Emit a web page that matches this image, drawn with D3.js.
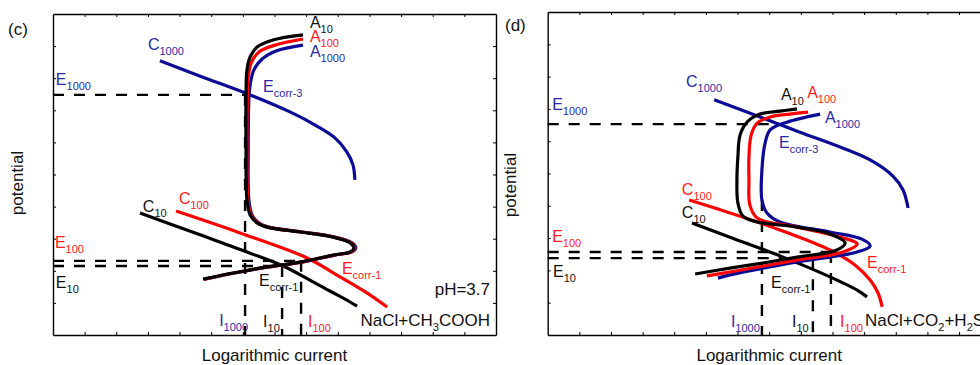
<!DOCTYPE html>
<html>
<head>
<meta charset="utf-8">
<script src="https://cdn.jsdelivr.net/npm/d3@7"></script>
<style>
  body { margin: 0; background: #fff; }
  svg { font-family: "Liberation Sans", Arial, sans-serif; }
</style>
</head>
<body>
<svg width="980" height="365"></svg>
<script>
// schematic polarisation curves, log current (x) vs potential (y), arbitrary units
const xTicks = d3.range(1, 14);
const yTicks = d3.range(1, 10);

// ---- panel (c): NaCl + CH3COOH, pH 3.7
const cCathodic1000 = [[3.38,8.54],[4.80,8.01],[6.23,7.48],[7.49,6.95],[8.34,6.51],[8.91,6.14],[9.29,5.70],[9.48,5.30],[9.54,4.83]];
const cCathodic10 = [[2.75,3.80],[4.65,3.12],[6.23,2.55],[7.27,2.15],[8.12,1.71],[8.75,1.37],[9.23,1.12],[9.61,0.90]];
const cCathodic100 = [[3.89,3.86],[5.91,3.18],[8.03,2.40],[9.07,1.81],[9.92,1.31],[10.56,0.87]];
const cAnodic10 = [[4.74,1.74],[5.69,1.93],[6.76,2.12],[7.81,2.27],[8.85,2.49],[9.39,2.59],[9.51,2.71],[9.39,2.87],[8.85,3.05],[7.81,3.21],[6.76,3.36],[6.45,3.49],[6.23,3.74],[6.13,4.21],[6.10,5.76],[6.10,7.32],[6.13,8.26],[6.23,8.66],[6.45,8.97],[6.95,9.19],[7.90,9.35]];
const cAnodic100 = [[4.77,1.74],[5.72,1.93],[6.79,2.12],[7.84,2.27],[8.88,2.49],[9.42,2.59],[9.54,2.71],[9.42,2.87],[8.88,3.05],[7.84,3.21],[6.79,3.36],[6.48,3.49],[6.26,3.74],[6.16,4.21],[6.13,5.76],[6.14,7.32],[6.16,7.94],[6.26,8.47],[6.51,8.82],[7.02,9.03],[7.90,9.22]];
const cAnodic1000 = [[4.80,1.74],[5.75,1.93],[6.82,2.12],[7.87,2.27],[8.91,2.49],[9.45,2.59],[9.57,2.71],[9.45,2.87],[8.91,3.05],[7.87,3.21],[6.82,3.36],[6.51,3.49],[6.29,3.74],[6.19,4.21],[6.17,5.76],[6.19,7.32],[6.23,7.79],[6.35,8.26],[6.61,8.60],[7.05,8.85],[7.90,9.03]];
const cGuides = [
  [[0,7.48],[6.07,7.48]], [[6.07,7.48],[6.07,0]],
  [[0,2.31],[7.84,2.31]], [[7.84,2.31],[7.84,0]],
  [[0,2.15],[7.24,2.15]], [[7.24,2.15],[7.24,0]]
];
const cLabels = [
  [3.00,8.88,"C","1000","b"], [0.09,7.79,"E","1000","b"],
  [8.12,9.56,"A","10","k"], [8.12,9.13,"A","100","r"], [8.12,8.66,"A","1000","b"],
  [6.64,7.57,"E","corr-3","b"],
  [2.84,3.83,"C","10","k"], [3.98,4.08,"C","100","r"],
  [0.06,2.71,"E","100","r"], [0.09,1.46,"E","10","k"],
  [6.51,1.53,"E","corr-1","k"], [9.13,1.90,"E","corr-1","r"],
  [5.25,0.28,"I","1000","b"], [6.64,0.25,"I","10","k"], [8.06,0.25,"I","100","r"]
];

// ---- panel (d): NaCl + CO2 + H2S
const dCathodic1000 = [[5.26,7.28],[6.71,6.75],[7.97,6.28],[9.24,5.82],[10.19,5.42],[10.91,4.92],[11.23,4.49],[11.39,3.93]];
const dCathodic10 = [[4.56,3.47],[5.76,3.03],[7.34,2.45],[8.92,1.80],[9.78,1.39],[10.09,1.18]];
const dCathodic100 = [[4.47,4.18],[5.76,3.78],[7.34,3.25],[8.92,2.63],[9.71,2.17],[10.19,1.70],[10.44,1.30],[10.57,0.87]];
const dAnodic10 = [[4.66,1.89],[5.76,2.07],[6.80,2.23],[7.88,2.41],[9.14,2.63],[9.40,2.85],[8.92,3.13],[7.88,3.34],[6.62,3.50],[6.17,3.68],[6.01,4.09],[5.98,4.80],[6.01,5.51],[6.08,6.19],[6.30,6.59],[6.71,6.84],[7.34,6.93],[7.88,7.00]];
const dAnodic100 = [[5.03,1.83],[5.76,1.95],[7.88,2.32],[9.33,2.57],[9.78,2.82],[9.24,3.03],[7.88,3.34],[6.62,3.62],[6.39,4.02],[6.36,4.80],[6.36,5.51],[6.43,6.19],[6.62,6.56],[7.03,6.75],[7.66,6.84],[8.23,6.90]];
const dAnodic1000 = [[5.38,1.76],[5.76,1.86],[7.88,2.26],[9.78,2.57],[10.19,2.76],[9.93,2.97],[8.92,3.19],[7.34,3.50],[6.93,3.78],[6.77,4.18],[6.77,5.11],[6.87,5.94],[7.03,6.35],[7.56,6.59],[8.61,6.84]];
const dGuides = [
  [[0,6.53],[7.44,6.53]], [[6.77,4.18],[6.77,0]],
  [[0,2.57],[8.95,2.57]], [[8.95,2.57],[8.95,0]],
  [[0,2.38],[8.38,2.38]], [[8.38,2.38],[8.38,0]]
];
const dLabels = [
  [4.37,7.68,"C","1000","b"], [0.14,6.97,"E","1000","b"],
  [7.37,7.28,"A","10","k"], [8.20,7.34,"A","100","r"], [8.76,6.56,"A","1000","b"],
  [7.31,5.79,"E","corr-3","b"],
  [4.24,4.33,"C","100","r"], [4.24,3.62,"C","10","k"],
  [0.14,2.88,"E","100","r"], [0.17,1.80,"E","10","k"],
  [7.06,1.46,"E","corr-1","k"], [10.09,2.07,"E","corr-1","r"],
  [5.79,0.25,"I","1000","b"], [7.72,0.25,"I","10","k"], [9.24,0.25,"I","100","r"]
];

const lineColor = { k: "#000", r: "#ff0000", b: "#0b0b96" };
const textColor = { k: "#111", r: "#ff1a1a", b: "#2a2aa6" };

const svg = d3.select("svg");

function addText(g, px, py, parts, color, size, anchor) {
  const t = g.append("text")
    .attr("x", px).attr("y", py)
    .attr("fill", color)
    .attr("font-size", size)
    .attr("text-anchor", anchor || "start");
  let shift = 0;
  parts.forEach(([s, sub]) => {
    const off = sub ? 5 : 0;
    t.append("tspan").attr("dy", off - shift).attr("font-size", sub ? 11 : size).text(s);
    shift = off;
  });
}

function drawPanel(p) {
  const g = svg.append("g");
  const x = d3.scaleLinear().domain([0, 14]).range([p.left, p.right]);
  const y = d3.scaleLinear().domain([0, 10]).range([p.bottom, p.top]);
  const line = d3.line()
    .x(d => x(d[0])).y(d => y(d[1]))
    .curve(d3.curveCatmullRom.alpha(0.5));

  // frame, small inward ticks on all four sides
  g.append("g").attr("transform", `translate(0,${p.bottom})`)
    .call(d3.axisBottom(x).tickValues(xTicks).tickSize(-3).tickSizeOuter(0).tickFormat(""));
  g.append("g").attr("transform", `translate(0,${p.top})`)
    .call(d3.axisTop(x).tickValues(xTicks).tickSize(-3).tickSizeOuter(0).tickFormat(""));
  g.append("g").attr("transform", `translate(${p.left},0)`)
    .call(d3.axisLeft(y).tickValues(yTicks).tickSize(-3).tickSizeOuter(0).tickFormat(""));
  g.append("g").attr("transform", `translate(${p.right},0)`)
    .call(d3.axisRight(y).tickValues(yTicks).tickSize(-3).tickSizeOuter(0).tickFormat(""));
  g.selectAll(".domain").attr("stroke", "#000").attr("stroke-width", 1.4);
  g.selectAll(".tick line").attr("stroke", "#000").attr("stroke-width", 1);

  // dashed construction lines
  g.selectAll(".guide").data(p.guides).join("line")
    .attr("class", "guide")
    .attr("x1", d => x(d[0][0])).attr("y1", d => y(d[0][1]))
    .attr("x2", d => x(d[1][0])).attr("y2", d => y(d[1][1]))
    .attr("stroke", "#000").attr("stroke-width", 2.4)
    .attr("stroke-dasharray", "11,10");

  // cathodic then anodic curves
  p.curves.forEach(c => {
    g.append("path").datum(c.pts)
      .attr("d", line)
      .attr("fill", "none")
      .attr("stroke", lineColor[c.col])
      .attr("stroke-width", 3.2);
  });

  p.labels.forEach(l => {
    addText(g, x(l[0]), y(l[1]), [[l[2], false], [l[3], true]], textColor[l[4]], 16);
  });
  p.notes.forEach(n => {
    addText(g, x(n.at[0]), y(n.at[1]), n.parts, "#111", 17, n.anchor);
  });

  addText(g, p.tag[0], p.tag[1], [[p.tagText, false]], "#111", 17);
  addText(g, (p.left + p.right) / 2, 361, [["Logarithmic current", false]], "#111", 17, "middle");
  g.append("text")
    .attr("transform", `translate(${p.ylab[0]},${p.ylab[1]}) rotate(-90)`)
    .attr("text-anchor", "middle")
    .attr("font-size", 17)
    .attr("fill", "#111")
    .text("potential");
}

drawPanel({
  left: 53, right: 496, top: 14, bottom: 335,
  tag: [8, 35], tagText: "(c)", ylab: [23, 183],
  guides: cGuides,
  curves: [
    { pts: cCathodic1000, col: "b" }, { pts: cCathodic10, col: "k" }, { pts: cCathodic100, col: "r" },
    { pts: cAnodic1000, col: "b" }, { pts: cAnodic100, col: "r" }, { pts: cAnodic10, col: "k" }
  ],
  labels: cLabels,
  notes: [
    { at: [13.81, 1.25], parts: [["pH=3.7", false]], anchor: "end" },
    { at: [13.81, 0.28], parts: [["NaCl+CH", false], ["3", true], ["COOH", false]], anchor: "end" }
  ]
});

drawPanel({
  left: 547.7, right: 990.7, top: 12, bottom: 335,
  tag: [505, 31], tagText: "(d)", ylab: [516, 185],
  guides: dGuides,
  curves: [
    { pts: dCathodic1000, col: "b" }, { pts: dCathodic10, col: "k" }, { pts: dCathodic100, col: "r" },
    { pts: dAnodic1000, col: "b" }, { pts: dAnodic100, col: "r" }, { pts: dAnodic10, col: "k" }
  ],
  labels: dLabels,
  notes: [
    { at: [10.03, 0.28], parts: [["NaCl+CO", false], ["2", true], ["+H", false], ["2", true], ["S", false]], anchor: "start" }
  ]
});
</script>
</body>
</html>
